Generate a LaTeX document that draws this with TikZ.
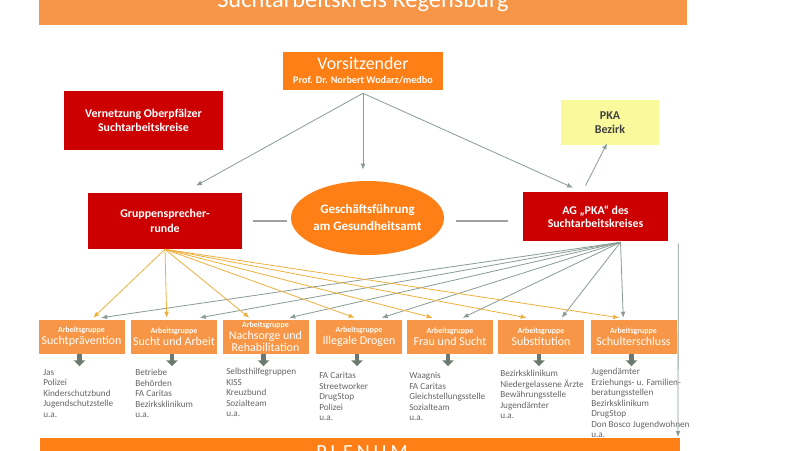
\documentclass[tikz,border=0pt]{standalone}
\usepackage{fontspec}
\setmainfont{Carlito}
\usetikzlibrary{arrows.meta,calc,shapes.geometric}
\definecolor{bannerc}{HTML}{F79646}
\definecolor{vorsc}{HTML}{FF7F17}
\definecolor{redc}{HTML}{CC0000}
\definecolor{yelc}{HTML}{FAFA9C}
\definecolor{ytext}{HTML}{404040}
\definecolor{grayarr}{HTML}{8A9C93}
\definecolor{orarr}{HTML}{EFB03F}
\definecolor{darkarr}{HTML}{6B7A6F}
\definecolor{listc}{HTML}{666666}
\definecolor{linec}{HTML}{A0A0A0}
\begin{document}
\begin{tikzpicture}[x=0.75pt,y=-0.75pt,
  every node/.style={inner sep=0pt},
  redbox/.style={fill=redc, text=white, align=center, font=\bfseries\fontsize{8.9}{10.5}\selectfont},
  grp/.style={fill=bannerc, text=white, align=center, minimum width=64.5pt, minimum height=25.5pt, font=\fontsize{9}{9}\selectfont},
  lst/.style={anchor=north west, align=left, text=listc, font=\fontsize{6.9}{7.9}\selectfont},
  garr/.style={draw=grayarr, line width=0.6pt, -{Latex[length=4.5pt,width=3.6pt]}},
  oarr/.style={draw=orarr, line width=0.6pt, -{Latex[length=4.5pt,width=3.6pt]}},
  darr/.style={draw=darkarr, line width=3.6pt, -{Triangle[length=4.5pt,width=8.5pt]}},
  conn/.style={draw=linec, line width=0.9pt}
]
\useasboundingbox (0,0) rectangle (800,450);
\clip (0,0) rectangle (800,450);
\fill[white] (0,0) rectangle (800,450);

% top banner
\node[fill=bannerc, minimum width=486pt, minimum height=30pt] (banner) at (363,5) {};
\node[anchor=base, text=white, font=\fontsize{18.3}{20}\selectfont] (title) at (363,7) {Suchtarbeitskreis Regensburg};

% main boxes
\node[fill=vorsc, text=white, align=center, minimum width=120pt, minimum height=28.5pt,
      font=\bfseries\fontsize{7.6}{10.5}\selectfont] (vs) at (363,71)
  {{\mdseries\fontsize{13.4}{10.5}\selectfont Vorsitzender}\\Prof. Dr. Norbert Wodarz/medbo};
\node[redbox, minimum width=119.25pt, minimum height=44.25pt, font=\bfseries\fontsize{8.9}{10.5}\selectfont] (vn) at (143.5,120.5)
  {Vernetzung Oberpfälzer\\Suchtarbeitskreise};
\node[fill=yelc, text=ytext, align=center, minimum width=73.5pt, minimum height=33.75pt,
      font=\bfseries\fontsize{9}{10.1}\selectfont] (pka) at (610,122.5) {PKA\\Bezirk};
\node[redbox, minimum width=115.5pt, minimum height=42pt, font=\bfseries\fontsize{8.9}{11.25}\selectfont] (gs) at (165,221)
  {Gruppensprecher-\\runde};
\node[ellipse, fill=vorsc, text=white, align=center, minimum width=114.75pt, minimum height=55.5pt,
      font=\bfseries\fontsize{9.7}{12.75}\selectfont] (el) at (367.5,218)
  {Geschäftsführung\\am Gesundheitsamt};
\node[redbox, minimum width=108.75pt, minimum height=36.75pt, font=\bfseries\fontsize{8.9}{10.1}\selectfont] (ag) at (595.5,216.5)
  {AG „PKA“ des\\Suchtarbeitskreises};

% connectors among main boxes
\coordinate (vsS) at ($(vs.south)+(0,3)$);
\coordinate (gsIn) at ($(gs.north)+(31,-7)$);
\coordinate (elIn) at ($(el.north)+(-4.5,-11)$);
\coordinate (agIn) at ($(ag.north)+(-22.5,-4)$);
\draw[garr] (vsS) -- (gsIn);
\draw[garr] (vsS) -- (elIn);
\draw[garr] (vsS) -- (agIn);
\coordinate (agOut) at ($(ag.north)+(-10,-6)$);
\coordinate (pkaIn) at ($(pka.south)+(-3,-2)$);
\draw[garr] (agOut) -- (pkaIn);
\coordinate (l1a) at (253,221);
\coordinate (l1b) at (287,221);
\coordinate (l2a) at (456,221);
\coordinate (l2b) at (508,221);
\draw[conn] (l1a) -- (l1b);
\draw[conn] (l2a) -- (l2b);

% working groups
\newcommand\agline{{\bfseries\fontsize{5.9}{9}\selectfont Arbeitsgruppe}}
\node[grp] (g1) at (81.5,337) {\agline\\Suchtprävention};
\node[grp] (g2) at (174,337) {\agline\\Sucht und Arbeit};
\node[grp] (g3) at (265.5,337) {\agline\\Nachsorge und\\Rehabilitation};
\node[grp] (g4) at (359,337) {\agline\\Illegale Drogen};
\node[grp] (g5) at (450,337) {\agline\\Frau und Sucht};
\node[grp] (g6) at (541,337) {\agline\\Substitution};
\node[grp] (g7) at (633.5,337) {\agline\\Schulterschluss};

% arrows to working groups
\coordinate (agS) at ($(ag.south)+(25,1)$);
\foreach \i/\o/\g in {1/55/63, 2/36/69, 3/27/67, 4/39/66, 5/26/56, 6/29/64, 7/29/33} {
  \draw[oarr] (gs.south) -- ($(g\i.north west)+(\o,-2)$);
  \draw[garr] (agS) -- ($(g\i.north west)+(\g,-2)$);
}
\foreach \i in {1,...,7} {
  \draw[darr] ($(g\i.south)+(-2,0)$) -- ++(0,12);
}

% lists
\node[lst] (l1) at (43,369) {Jas\\Polizei\\Kinderschutzbund\\Jugendschutzstelle\\u.a.};
\node[lst] (l2) at (135,369) {Betriebe\\Behörden\\FA Caritas\\Bezirksklinikum\\u.a.};
\node[lst] (l3) at (226,368) {Selbsthilfegruppen\\KISS\\Kreuzbund\\Sozialteam\\u.a.};
\node[lst] (l4) at (319,372) {FA Caritas\\Streetworker\\DrugStop\\Polizei\\u.a.};
\node[lst] (l5) at (409,372) {Waagnis\\FA Caritas\\Gleichstellungsstelle\\Sozialteam\\u.a.};
\node[lst] (l6) at (500,370) {Bezirksklinikum\\Niedergelassene Ärzte\\Bewährungsstelle\\Jugendämter\\u.a.};
\node[lst] (l7) at (591,368) {Jugendämter\\Erziehungs- u. Familien-\\beratungsstellen\\Bezirksklinikum\\DrugStop\\Don Bosco Jugendwohnen\\u.a.};

% plenum
\node[fill=vorsc, minimum width=480pt, minimum height=21pt] (pl) at (360,452) {};
\node[anchor=base, text=white, font=\fontsize{15}{18}\selectfont\addfontfeature{LetterSpace=20}] (plt) at (362,458) {PLENUM};
\coordinate (vTop) at ($(ag.south east)+(10,2)$);
\coordinate (vBot) at (678,437);
\draw[garr] (vTop) -- (vBot);
\end{tikzpicture}
\end{document}
